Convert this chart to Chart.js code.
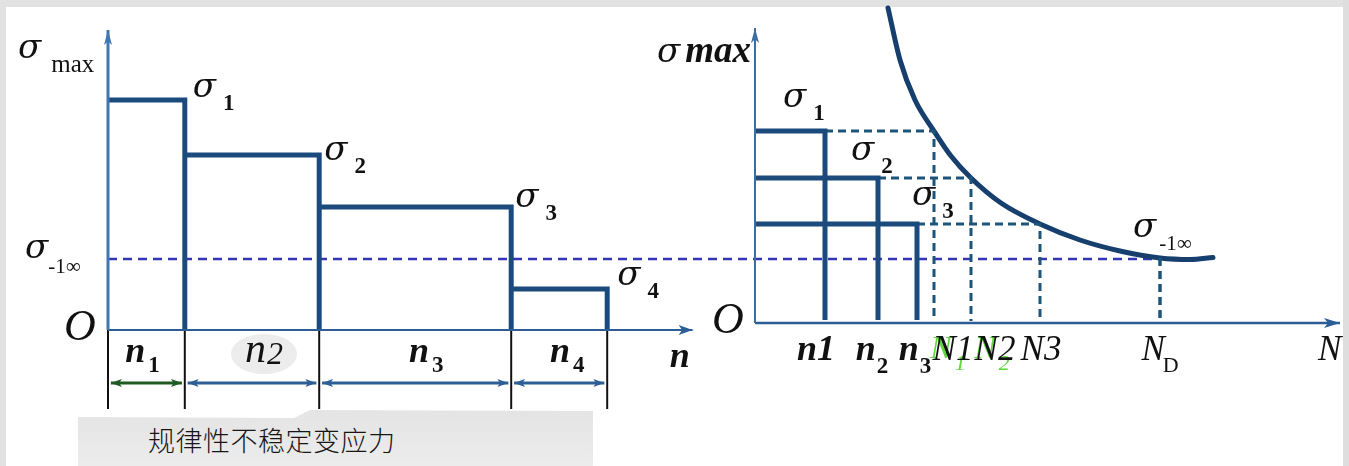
<!DOCTYPE html>
<html lang="zh">
<head>
<meta charset="utf-8">
<title>规律性不稳定变应力</title>
<script src="https://cdn.jsdelivr.net/npm/chart.js@4.4.1/dist/chart.umd.min.js"></script>
<style>
  html, body { margin: 0; padding: 0; background: #e2e2e2; }
  .wrap { position: relative; width: 1349px; height: 466px; overflow: hidden; }
  #stressChart { position: absolute; left: 0; top: 0; }
  .caption {
    position: absolute; left: 78px; top: 409px; width: 515px; height: 57px;
    background: linear-gradient(#e4e4e4, #ececec);
    clip-path: polygon(0 8px, 42% 9px, 45% 1px, 100% 2px, 100% 100%, 0 100%);
  }
  .caption span {
    position: absolute; left: 70px; top: 17px;
    font: 300 27px/28px "Noto Sans CJK SC", sans-serif; color: #161616; letter-spacing: 0.5px;
  }
</style>
</head>
<body>
<div class="wrap">
  <canvas id="stressChart" width="1349" height="466"></canvas>
  <div class="caption"><span>规律性不稳定变应力</span></div>
</div>
<script>
// 左图：规律性不稳定变应力的载荷块
const blockSubs   = ['1', '2', '3', '4'];
const blockCycles = [0.8, 1.4, 2.0, 1.0];     // n1..n4
const blockStress = [460, 350, 246, 82];      // σ1..σ4
const limitStress = 142;                      // σ-1∞

// 右图：疲劳曲线与各级应力的寿命
const snSubs      = ['1', '2', '3'];
const snStress    = [384, 290, 198];          // σ1..σ3
const snCycles    = [7.0, 12.3, 16.2];        // n1..n3
const snLife      = [17.9, 21.6, 28.5];       // N1..N3
const snEndurance = 40.5;                     // ND
const snLimit     = 130;                      // σ-1∞
const curveN      = [13.3, 14.5, 16.0, 17.9, 19.6, 21.6, 24.6, 28.5, 32.5, 36.5, 40.5, 43.5, 45.8];
const curveStress = [630, 526, 446, 384, 334, 290, 240, 198, 166, 144, 130, 127, 131];

// 坐标轴长度
const leftAxisTop = 600, leftAxisEnd = 6.09;
const rightAxisTop = 590, rightAxisEnd = 58.5;

const W = 1349, H = 466;
const PPU = { xL: 96, yL: 0.5, xR: 10, yR: 0.5 };   // 每单位像素
const ORIGIN = { xL: 108, yL: 330, xR: 755, yR: 323 };

// 让数值 0 落在指定像素上
function span(id, size, flip) {
  const o = ORIGIN[id], k = PPU[id];
  return flip ? { min: -(size - o) / k, max: o / k } : { min: -o / k, max: (size - o) / k };
}

const STEP = '#1b4a7d';
const F_SIG = 'italic 34px "DejaVu Serif"';
const F_SUB = 'bold 23px "Liberation Serif"';
const F_N   = 'italic bold 36px "Liberation Serif"';
const F_NR  = 'italic 35px "Liberation Serif"';

// 载荷块边界
const edges = [0];
blockCycles.forEach((c, i) => edges.push(+(edges[i] + c).toFixed(3)));

const stepPath = [];
blockStress.forEach((s, i) => {
  stepPath.push({ x: edges[i], y: s }, { x: edges[i + 1], y: s }, { x: edges[i + 1], y: 0 });
});

function line(data, axes, color, width, extra) {
  return Object.assign({
    data, xAxisID: 'x' + axes, yAxisID: 'y' + axes, showLine: true,
    borderColor: color, backgroundColor: color, borderWidth: width,
    pointRadius: 0, fill: false, borderJoinStyle: 'miter'
  }, extra || {});
}

const dimY = -53 / PPU.yL, fenceY = -79 / PPU.yL;

const datasets = [
  line([{ x: 0, y: 0 }, { x: 0, y: leftAxisTop }], 'L', '#4077b0', 3, { arrow: 'end', head: [15, 4] }),
  line([{ x: 0, y: 0 }, { x: leftAxisEnd, y: 0 }], 'L', '#2c5e96', 2, { arrow: 'end', head: [14, 5] }),
  line(stepPath, 'L', STEP, 5),
  ...edges.map(b => line([{ x: b, y: 8 }, { x: b, y: fenceY }], 'L', '#111', 2)),
  ...blockCycles.map((c, i) => line(
    [{ x: edges[i] + 0.03, y: dimY }, { x: edges[i + 1] - 0.03, y: dimY }], 'L',
    i === 0 ? '#1f5a22' : '#2d5f96', 3, { arrow: 'both', head: [11, 4] })),

  line([{ x: 0, y: 0 }, { x: 0, y: rightAxisTop }], 'R', '#3d6ea3', 2, { arrow: 'end', head: [15, 4] }),
  line([{ x: 0, y: 0 }, { x: rightAxisEnd, y: 0 }], 'R', '#2c5e96', 2.5, { arrow: 'end', head: [16, 5] }),
  ...snStress.map((s, i) => line(
    [{ x: 0, y: s }, { x: snCycles[i], y: s }, { x: snCycles[i], y: 6 }], 'R', STEP, 5)),
  ...snStress.map((s, i) => line(
    [{ x: snCycles[i], y: s }, { x: snLife[i], y: s }, { x: snLife[i], y: 4 }], 'R', '#1d5479', 3,
    { borderDash: [8, 5] })),
  line([{ x: snEndurance, y: snLimit }, { x: snEndurance, y: 4 }], 'R', '#1d5479', 3.5, { borderDash: [8, 5] }),
  line(curveN.map((n, i) => ({ x: n, y: curveStress[i] })), 'R', '#173f6e', 5,
    { cubicInterpolationMode: 'monotone', borderCapStyle: 'round' })
];

// 背景与纸面
const paperPlugin = {
  id: 'paper',
  beforeDraw(chart) {
    const ctx = chart.ctx;
    ctx.save();
    ctx.fillStyle = '#e2e2e2';
    ctx.fillRect(0, 0, W, H);
    ctx.fillStyle = '#fff';
    ctx.fillRect(6, 7, 1337, H - 7);
    // n2 下的浅灰底
    const s = chart.scales;
    const cx = s.xL.getPixelForValue((edges[1] + edges[2]) / 2) + 12;
    const cy = s.yL.getPixelForValue(0) + 24;
    ctx.fillStyle = '#ececec';
    ctx.beginPath();
    ctx.ellipse(cx, cy, 33, 20, 0, 0, Math.PI * 2);
    ctx.fill();
    ctx.restore();
  },
  afterDraw(chart) {
    const ctx = chart.ctx;
    ctx.fillStyle = '#dedede';
    ctx.fillRect(1343, 0, W - 1343, H);
  }
};

// 两图共用的 σ-1∞ 虚线
const limitPlugin = {
  id: 'limitLine',
  beforeDatasetsDraw(chart) {
    const s = chart.scales, ctx = chart.ctx;
    const y = s.yL.getPixelForValue(limitStress);
    ctx.save();
    ctx.strokeStyle = '#3434b6';
    ctx.lineWidth = 2.5;
    ctx.setLineDash([9, 6]);
    ctx.beginPath();
    ctx.moveTo(s.xL.getPixelForValue(0), y);
    ctx.lineTo(s.xR.getPixelForValue(snEndurance), y);
    ctx.stroke();
    ctx.restore();
  }
};

// 箭头
const arrowPlugin = {
  id: 'arrows',
  afterDatasetsDraw(chart) {
    const ctx = chart.ctx;
    chart.data.datasets.forEach((ds, i) => {
      if (!ds.arrow) return;
      const pts = chart.getDatasetMeta(i).data;
      const n = pts.length;
      const heads = [[pts[n - 2], pts[n - 1]]];
      if (ds.arrow === 'both') heads.push([pts[1], pts[0]]);
      const [len, hw] = ds.head;
      ctx.save();
      ctx.fillStyle = ds.borderColor;
      heads.forEach(([a, b]) => {
        const ang = Math.atan2(b.y - a.y, b.x - a.x);
        ctx.translate(b.x, b.y);
        ctx.rotate(ang);
        ctx.beginPath();
        ctx.moveTo(0, 0);
        ctx.lineTo(-len, -hw);
        ctx.lineTo(-len * 0.75, 0);
        ctx.lineTo(-len, hw);
        ctx.closePath();
        ctx.fill();
        ctx.setTransform(1, 0, 0, 1, 0, 0);
      });
      ctx.restore();
    });
  }
};

// 文字标注：锚点用数据值，偏移用像素
const sig = t => [{ text: 'σ', font: F_SIG }, { text: t, font: F_SUB, dx: 7, dy: 13 }];
const LIM = '21px "Liberation Serif"';
const labels = [
  { ax: 'L', x: 0, y: leftAxisTop, dx: -90, dy: 28,
    parts: [{ text: 'σ', font: F_SIG }, { text: 'max', font: '25px "Liberation Serif"', dx: 10, dy: 14 }] },
  ...blockStress.map((s, i) => ({ ax: 'L', x: edges[i + 1], y: s,
    dx: [8, 5, 4, 10][i], dy: [-3, 5, 0, -4][i], parts: sig(blockSubs[i]) })),
  { ax: 'L', x: 0, y: limitStress, dx: -83, dy: -1,
    parts: [{ text: 'σ', font: F_SIG }, { text: '-1∞', font: LIM, dx: 0, dy: 15 }] },
  { ax: 'L', x: 0, y: 0, dx: -44, dy: 10, parts: [{ text: 'O', font: 'italic 44px "Liberation Serif"' }] },
  ...blockCycles.map((c, i) => ({ ax: 'L', x: (edges[i] + edges[i + 1]) / 2, y: 0, dx: [-4, 12, 11, 8][i], dy: 32,
    align: 'center',
    parts: i === 1
      ? [{ text: 'n', font: 'italic 42px "Liberation Serif"' }, { text: '2', font: 'italic 32px "Liberation Serif"', dx: 1, dy: 2 }]
      : [{ text: 'n', font: F_N }, { text: blockSubs[i], font: F_SUB, dx: 3, dy: 10 }] })),
  { ax: 'L', x: leftAxisEnd, y: 0, dx: -23, dy: 37, parts: [{ text: 'n', font: F_N }] },

  { ax: 'R', x: 0, y: rightAxisTop, dx: -98, dy: 34,
    parts: [{ text: 'σ', font: F_SIG }, { text: 'max', font: 'italic bold 37px "Liberation Serif"', dx: 5 }] },
  ...snStress.map((s, i) => ({ ax: 'R', x: snCycles[i], y: s,
    dx: [-42, -27, -5][i], dy: [-24, -18, -19][i], parts: sig(snSubs[i]) })),
  { ax: 'R', x: snEndurance, y: snLimit, dx: -27, dy: -21,
    parts: [{ text: 'σ', font: F_SIG }, { text: '-1∞', font: LIM, dx: 3, dy: 13 }] },
  { ax: 'R', x: 0, y: 0, dx: -43, dy: 10, parts: [{ text: 'O', font: 'italic 44px "Liberation Serif"' }] },
  { ax: 'R', x: snCycles[0], y: 0, dx: -9, dy: 37, align: 'center', parts: [{ text: 'n1', font: F_N }] },
  ...[1, 2].map(i => ({ ax: 'R', x: snCycles[i], y: 0, dx: [0, -6, -2][i], dy: 37, align: 'center',
    parts: [{ text: 'n', font: F_N }, { text: snSubs[i], font: F_SUB, dx: 1, dy: 13 }] })),
  // 绿色的 N1、N2
  ...[0, 1].map(i => ({ ax: 'R', x: snLife[i], y: 0, dx: [14, 21][i], dy: 35, align: 'center',
    parts: [{ text: 'N', font: 'italic 32px "Liberation Serif"', color: '#5ad83a' },
            { text: snSubs[i], font: 'italic 22px "Liberation Serif"', color: '#5ad83a', dx: 3, dy: 12 }] })),
  ...snLife.map((v, i) => ({ ax: 'R', x: v, y: 0, dx: [19, 24, 1][i], dy: 37, align: 'center',
    parts: [{ text: 'N' + snSubs[i], font: F_NR }] })),
  { ax: 'R', x: snEndurance, y: 0, dx: 0, dy: 37, align: 'center',
    parts: [{ text: 'N', font: F_NR }, { text: 'D', font: '22px "Liberation Serif"', dx: -2, dy: 12 }] },
  { ax: 'R', x: rightAxisEnd, y: 0, dx: -22, dy: 37, parts: [{ text: 'N', font: F_NR }] }
];

function drawParts(ctx, x, y, parts, align) {
  let w = 0;
  parts.forEach(p => {
    ctx.font = p.font;
    p.w = ctx.measureText(p.text).width;
    w += p.w + (p.dx || 0);
  });
  let cx = align === 'center' ? x - w / 2 : x;
  parts.forEach(p => {
    ctx.font = p.font;
    ctx.fillStyle = p.color || '#111';
    cx += p.dx || 0;
    ctx.fillText(p.text, cx, y + (p.dy || 0));
    cx += p.w;
  });
}

const labelPlugin = {
  id: 'mathLabels',
  afterDatasetsDraw(chart) {
    const ctx = chart.ctx, s = chart.scales;
    ctx.save();
    ctx.textBaseline = 'alphabetic';
    ctx.textAlign = 'left';
    labels.forEach(l => {
      const px = s['x' + l.ax].getPixelForValue(l.x) + l.dx;
      const py = s['y' + l.ax].getPixelForValue(l.y) + l.dy;
      drawParts(ctx, px, py, l.parts, l.align);
    });
    ctx.restore();
  }
};

new Chart(document.getElementById('stressChart'), {
  type: 'scatter',
  data: { datasets },
  options: {
    responsive: false,
    animation: false,
    events: [],
    layout: { padding: 0, autoPadding: false },
    plugins: { legend: { display: false }, tooltip: { enabled: false } },
    scales: {
      xL: Object.assign({ type: 'linear', display: false }, span('xL', W)),
      yL: Object.assign({ type: 'linear', display: false }, span('yL', H, true)),
      xR: Object.assign({ type: 'linear', display: false }, span('xR', W)),
      yR: Object.assign({ type: 'linear', display: false }, span('yR', H, true))
    }
  },
  plugins: [paperPlugin, limitPlugin, arrowPlugin, labelPlugin]
});
</script>
</body>
</html>
